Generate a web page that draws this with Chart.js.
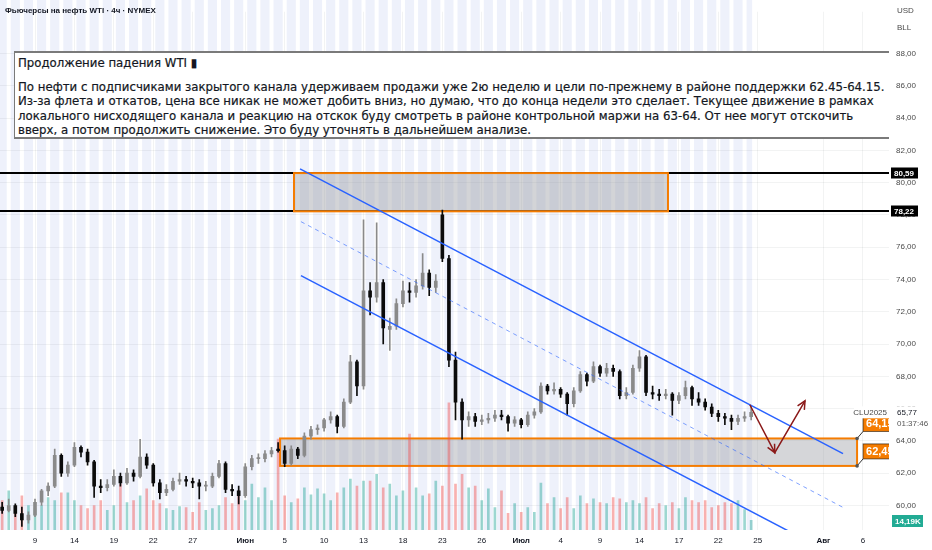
<!DOCTYPE html>
<html lang="ru">
<head>
<meta charset="utf-8">
<title>Фьючерсы на нефть WTI · 4ч</title>
<script src="https://cdn.jsdelivr.net/npm/chart.js@4.4.1/dist/chart.umd.min.js"></script>
<style>
  html, body { margin: 0; padding: 0; background: #fff; }
  #wrap { position: relative; width: 932px; height: 550px; overflow: hidden; }
  #priceChart { position: absolute; left: 0; top: 0; }
  .hdr { position: absolute; left: 5px; top: 6px; font: bold 8px "Liberation Sans", Arial, sans-serif; color: #131722; white-space: nowrap; }
  .cur { position: absolute; left: 897px; font: 8px "Liberation Sans", Arial, sans-serif; color: #4a4a4a; }
  #note { position: absolute; left: 14px; top: 51px; width: 875px; height: 88px; box-sizing: border-box;
          background: #fff; border-top: 2px solid #7a7a7a; border-bottom: 2px solid #7a7a7a; border-left: 1px solid #7a7a7a;
          padding-left: 3px; font: 11.75px "DejaVu Sans", sans-serif; color: #131722; white-space: nowrap; overflow: hidden;
          -webkit-text-stroke: 0.2px #131722; }
  #note .t { margin-top: 3px; line-height: 14px; }
  #note .b { margin-top: 10px; line-height: 14.3px; }
</style>
</head>
<body>
<div id="wrap">
  <canvas id="priceChart" width="932" height="550"></canvas>
  <div class="hdr">Фьючерсы на нефть WTI · 4ч · NYMEX</div>
  <div class="cur" style="top:6px">USD</div>
  <div class="cur" style="top:23px">BLL</div>
  <div id="note">
    <div class="t">Продолжение падения WTI ▮</div>
    <div class="b">По нефти с подписчиками закрытого канала удерживаем продажи уже 2ю неделю и цели по-прежнему в районе поддержки 62.45-64.15.<br>Из-за флета и откатов, цена все никак не может добить вниз, но думаю, что до конца недели это сделает. Текущее движение в рамках<br>локального нисходящего канала и реакцию на отскок буду смотреть в районе контрольной маржи на 63-64. От нее могут отскочить<br>вверх, а потом продолжить снижение. Это буду уточнять в дальнейшем анализе.</div>
  </div>
</div>
<script>
// Свечи: по 2 на торговый день, день 0 = 9 мая
const firstBarDay = -2.5;
const barsPerDay = 2;

const opens = [
    59.9, 59.7, 60.0, 59.5, 59.1,
    59.4, 60.2, 60.9, 61.2, 63.1, 62.0, 62.5, 63.6, 63.3, 62.7,
    61.2, 61.1, 61.3, 61.8, 61.4, 62.0, 61.8, 63.0, 62.5, 61.4,
    60.8, 61.0, 61.5, 61.6, 61.5, 61.4, 61.2, 61.2, 61.8, 62.6,
    61.0, 60.9, 60.6, 62.4, 62.9, 62.9, 63.2, 63.5, 63.4, 62.6,
    63.5, 63.1, 64.3, 64.7, 64.8, 65.3, 65.5, 64.9, 66.4, 68.9,
    67.4, 73.3, 72.9, 73.8, 70.9, 71.1, 72.5, 73.3, 73.2, 73.6,
    74.4, 73.5, 78.0, 75.3, 69.0, 66.4, 65.3, 65.5, 65.2, 65.3,
    65.4, 65.6, 65.5, 65.1, 65.3, 65.0, 65.6, 65.8, 67.4, 67.1,
    67.2, 66.9, 66.3, 67.1, 68.1, 67.7, 68.6, 68.2, 68.5, 68.3,
    66.8, 67.0, 68.5, 69.2, 67.0, 66.9, 66.8, 66.9, 66.5, 66.8,
    67.3, 66.6, 66.4, 66.1, 65.7, 65.5, 65.4, 65.2, 65.4, 65.5
];
const highs = [
    60.2, 60.4, 60.1, 59.9, 59.6,
    60.4, 61.0, 61.4, 63.5, 63.2, 62.7, 63.9, 63.7, 63.5, 62.8,
    61.6, 61.6, 62.2, 62.0, 62.3, 62.2, 64.1, 63.2, 62.6, 61.6,
    61.3, 61.7, 62.0, 61.8, 61.7, 61.6, 61.5, 62.0, 62.8, 62.7,
    61.3, 61.2, 62.6, 63.1, 63.2, 63.4, 63.6, 63.9, 63.7, 63.7,
    63.6, 64.5, 64.9, 65.0, 65.4, 65.8, 65.6, 66.6, 69.3, 69.0,
    77.7, 73.8, 77.5, 74.0, 71.6, 72.8, 73.9, 73.8, 74.0, 75.6,
    74.6, 74.3, 78.3, 75.5, 69.5, 66.6, 65.8, 65.7, 65.6, 65.7,
    65.9, 65.9, 65.6, 65.5, 65.4, 65.8, 66.0, 67.6, 67.5, 67.6,
    67.3, 67.0, 67.3, 68.3, 68.2, 68.9, 68.7, 68.8, 68.7, 68.4,
    67.3, 68.7, 69.6, 69.3, 67.4, 67.2, 67.2, 67.0, 67.0, 67.7,
    67.4, 67.0, 66.6, 66.3, 65.9, 65.7, 65.6, 65.6, 65.8, 66.2
];
const lows = [
    59.5, 59.6, 59.3, 58.7, 58.9,
    59.3, 60.0, 60.6, 61.1, 61.8, 61.8, 62.4, 63.0, 62.5, 60.5,
    60.8, 60.9, 61.2, 61.2, 61.3, 61.5, 61.7, 62.3, 61.2, 60.4,
    60.6, 60.9, 61.3, 61.2, 61.1, 60.4, 60.9, 61.1, 61.7, 60.8,
    60.6, 60.1, 60.5, 62.2, 62.6, 62.7, 63.0, 63.3, 62.4, 62.5,
    62.9, 63.0, 64.1, 64.4, 64.6, 65.1, 64.5, 64.8, 66.3, 66.8,
    67.2, 71.8, 72.6, 70.0, 69.6, 70.9, 72.3, 72.6, 72.9, 73.4,
    73.0, 73.2, 75.1, 68.6, 65.3, 64.1, 64.9, 64.9, 65.0, 65.1,
    65.2, 65.3, 64.6, 64.9, 64.8, 64.9, 65.4, 65.7, 66.9, 66.9,
    66.7, 65.6, 66.1, 67.0, 67.4, 67.6, 68.0, 68.0, 68.0, 66.6,
    66.6, 66.9, 68.3, 66.8, 66.6, 66.5, 66.6, 65.6, 66.3, 66.6,
    66.2, 66.2, 65.9, 65.5, 65.2, 65.0, 64.7, 65.0, 65.2, 65.3
];
const closes = [
    59.7, 60.0, 59.5, 59.1, 59.4,
    60.2, 60.9, 61.2, 63.1, 62.0, 62.5, 63.6, 63.3, 62.7, 61.2,
    61.1, 61.3, 61.8, 61.4, 62.0, 61.8, 63.0, 62.5, 61.4, 60.8,
    61.0, 61.5, 61.6, 61.5, 61.4, 61.2, 61.2, 61.8, 62.6, 61.0,
    60.9, 60.6, 62.4, 62.9, 62.9, 63.2, 63.4, 63.4, 62.6, 63.5,
    63.1, 64.3, 64.7, 64.8, 65.3, 65.5, 64.9, 66.4, 68.9, 67.4,
    73.3, 72.9, 73.8, 71.0, 71.1, 72.5, 73.3, 73.2, 73.6, 74.4,
    73.5, 73.9, 75.3, 69.0, 66.4, 65.3, 65.5, 65.2, 65.3, 65.4,
    65.6, 65.5, 65.1, 65.3, 65.0, 65.6, 65.8, 67.4, 67.1, 67.2,
    66.9, 66.3, 67.1, 68.1, 67.7, 68.6, 68.2, 68.5, 68.3, 66.8,
    67.0, 68.5, 69.2, 67.0, 66.9, 66.8, 66.9, 66.5, 66.8, 67.3,
    66.6, 66.4, 66.1, 65.7, 65.5, 65.4, 65.2, 65.4, 65.5, 65.77
];
// Объём, тыс. контрактов
const volumes = [
    42.6, 56.8, 28.4, 49.7, 35.5,
    31.2, 35.5, 46.9, 42.6, 54.0, 54.0, 42.6, 35.5, 31.2, 35.5,
    42.6, 28.4, 35.5, 66.7, 39.8, 42.6, 49.7, 59.6, 42.6, 38.3,
    31.2, 28.4, 34.1, 32.7, 25.6, 39.8, 28.4, 31.2, 35.5, 46.9,
    38.3, 56.8, 42.6, 66.7, 46.9, 61.1, 42.6, 132.1, 49.7, 39.8,
    45.4, 61.1, 51.1, 59.6, 52.5, 42.6, 54.0, 61.1, 73.8, 63.9,
    71.0, 71.0, 80.9, 61.1, 66.7, 49.7, 56.8, 139.2, 61.1, 49.7,
    52.5, 71.0, 63.9, 184.6, 66.7, 80.9, 61.1, 63.9, 42.6, 59.6,
    32.7, 56.8, 24.1, 38.3, 25.6, 32.7, 25.6, 68.2, 38.3, 46.9,
    31.2, 46.9, 31.2, 49.7, 38.3, 45.4, 39.8, 38.3, 46.9, 45.4,
    39.8, 42.6, 38.3, 46.9, 31.2, 38.3, 35.5, 39.8, 31.2, 46.9,
    42.6, 39.8, 42.6, 32.7, 35.5, 39.8, 38.3, 42.6, 29.8, 14.19
];

// Подписи осей
const xTickDays = [0, 3, 6, 9, 12, 16, 19, 22, 25, 28, 31, 34, 37, 40, 43, 46, 49, 52, 55, 60, 63];
const xTickLabels = ['9', '14', '19', '22', '27', 'Июн', '5', '10', '13', '18', '23', '26', 'Июл', '4', '9', '14', '17', '22', '25', 'Авг', '6'];
const monthLabels = ['Июн', 'Июл', 'Авг'];
const yTicks = [60, 62, 64, 66, 68, 70, 72, 74, 76, 78, 80, 82, 84, 86, 88];

// Разметка: уровни, зоны, канал, прогноз (день, цена)
const levelPrices = [80.59, 78.22];
const topZoneDays = [19.71, 48.17];
const topZonePrices = [78.22, 80.59];
const supportZoneDays = [18.65, 62.56];
const supportZonePrices = [62.45, 64.15];
const channelUpper = [[20.17, 80.85], [61.49, 63.21]];
const channelMiddle = [[20.24, 77.58], [61.49, 59.88]];
const channelLower = [[20.24, 74.24], [58.6, 57.88]];
const forecastPath = [[54.4, 66.24], [56.3, 63.27], [58.6, 66.48]];
const lastPrice = 65.77;
const lastVolume = '14,19K';

const barDays = closes.map((c, i) => firstBarDay + i / barsPerDay);
const isUp = closes.map((c, i) => c >= opens[i]);
const candleColors = isUp.map(u => u ? '#8a8a8a' : '#0b0b0b');
const volumeColors = isUp.map(u => u ? 'rgba(38, 166, 154, 0.45)' : 'rgba(239, 83, 80, 0.45)');

const fmt = v => v.toFixed(2).replace('.', ',');
const FONT = '"Liberation Sans", Arial, sans-serif';

function line(ctx, chart, pts) {
    const { x, y } = chart.scales;
    ctx.beginPath();
    pts.forEach((p, i) => {
        const px = x.getPixelForValue(p[0]), py = y.getPixelForValue(p[1]);
        if (i === 0) ctx.moveTo(px, py); else ctx.lineTo(px, py);
    });
    ctx.stroke();
}

function arrowHead(ctx, x0, y0, x1, y1) {
    const a = Math.atan2(y1 - y0, x1 - x0);
    ctx.beginPath();
    ctx.moveTo(x1 - 9 * Math.cos(a - 0.45), y1 - 9 * Math.sin(a - 0.45));
    ctx.lineTo(x1, y1);
    ctx.lineTo(x1 - 9 * Math.cos(a + 0.45), y1 - 9 * Math.sin(a + 0.45));
    ctx.stroke();
}

function zone(ctx, chart, days, prices, fill) {
    const { x, y } = chart.scales;
    const x0 = x.getPixelForValue(days[0]), x1 = x.getPixelForValue(days[1]);
    const y0 = y.getPixelForValue(prices[1]), y1 = y.getPixelForValue(prices[0]);
    ctx.fillStyle = fill;
    ctx.fillRect(x0, y0, x1 - x0, y1 - y0);
    ctx.strokeStyle = '#f57c00';
    ctx.lineWidth = 2;
    ctx.strokeRect(x0, y0, x1 - x0, y1 - y0);
}

function tag(ctx, x0, yc, w, h, bg, fg, text) {
    ctx.fillStyle = bg;
    ctx.fillRect(x0, yc - h / 2, w, h);
    ctx.fillStyle = fg;
    ctx.font = 'bold 8px ' + FONT;
    ctx.textBaseline = 'middle';
    ctx.textAlign = 'left';
    ctx.fillText(text, x0 + 3, yc + 0.5);
}

const drawings = {
    id: 'drawings',
    beforeDraw(chart) {
        const { ctx, chartArea, scales: { x } } = chart;
        ctx.save();
        ctx.fillStyle = '#fff';
        ctx.fillRect(0, 0, chart.width, chart.height);
        // фон торговых сессий
        const xEnd = x.getPixelForValue(barDays[barDays.length - 1]) + 1;
        ctx.fillStyle = '#eef1fb';
        ctx.fillRect(chartArea.left, 0, xEnd - chartArea.left, chartArea.bottom);
        ctx.fillStyle = '#fff';
        for (let d = Math.ceil(firstBarDay); d <= barDays[barDays.length - 1]; d++) {
            ctx.fillRect(x.getPixelForValue(d) - 2, 0, 4, chartArea.bottom);
        }
        ctx.restore();
    },
    beforeDatasetsDraw(chart) {
        const { ctx, chartArea, scales: { y } } = chart;
        ctx.save();
        ctx.strokeStyle = '#000';
        ctx.lineWidth = 2;
        levelPrices.forEach(p => {
            const py = Math.round(y.getPixelForValue(p));
            ctx.beginPath();
            ctx.moveTo(chartArea.left, py);
            ctx.lineTo(chartArea.right, py);
            ctx.stroke();
        });
        zone(ctx, chart, topZoneDays, topZonePrices, 'rgba(150, 152, 160, 0.42)');
        zone(ctx, chart, supportZoneDays, supportZonePrices, 'rgba(150, 152, 160, 0.4)');
        ctx.restore();
    },
    afterDatasetsDraw(chart) {
        const { ctx, chartArea, scales: { x, y } } = chart;
        ctx.save();
        ctx.beginPath();
        ctx.rect(chartArea.left, chartArea.top, chartArea.right - chartArea.left, chartArea.bottom - chartArea.top);
        ctx.clip();

        // нисходящий канал
        ctx.strokeStyle = '#2962ff';
        ctx.lineWidth = 1.5;
        line(ctx, chart, channelUpper);
        line(ctx, chart, channelLower);
        ctx.setLineDash([4, 4]);
        ctx.lineWidth = 1;
        ctx.strokeStyle = 'rgba(41, 98, 255, 0.6)';
        line(ctx, chart, channelMiddle);
        ctx.setLineDash([]);

        // прогноз
        ctx.strokeStyle = '#8b1a1a';
        ctx.lineWidth = 1.5;
        line(ctx, chart, forecastPath);
        const fp = forecastPath.map(p => [x.getPixelForValue(p[0]), y.getPixelForValue(p[1])]);
        arrowHead(ctx, fp[0][0], fp[0][1], fp[1][0], fp[1][1]);
        arrowHead(ctx, fp[1][0], fp[1][1], fp[2][0], fp[2][1]);

        // ценовые метки зоны поддержки
        const zx = x.getPixelForValue(supportZoneDays[1]);
        [supportZonePrices[1], supportZonePrices[0]].forEach(p => {
            const cy = y.getPixelForValue(p);
            ctx.strokeStyle = '#333';
            ctx.lineWidth = 1;
            ctx.beginPath();
            ctx.moveTo(zx, cy);
            ctx.lineTo(zx + 6, cy - 7);
            ctx.stroke();
            ctx.fillStyle = '#f57c00';
            ctx.fillRect(zx + 6, cy - 22, 40, 15);
            ctx.strokeStyle = 'rgba(0,0,0,0.55)';
            ctx.strokeRect(zx + 6, cy - 22, 40, 15);
            ctx.fillStyle = '#fff';
            ctx.font = 'bold 11px ' + FONT;
            ctx.textBaseline = 'middle';
            ctx.fillText(fmt(p), zx + 9, cy - 14);
            ctx.fillStyle = '#555';
            ctx.beginPath();
            ctx.arc(zx, cy, 1.8, 0, Math.PI * 2);
            ctx.fill();
        });

        // подпись инструмента
        const ly = y.getPixelForValue(lastPrice);
        ctx.fillStyle = '#fff';
        ctx.fillRect(chartArea.right - 35, ly - 6, 35, 12);
        ctx.fillStyle = '#4a4a4a';
        ctx.font = '8px ' + FONT;
        ctx.textAlign = 'right';
        ctx.textBaseline = 'middle';
        ctx.fillText('CLU2025', chartArea.right - 2, ly);
        ctx.restore();

        // метки на шкале цены
        ctx.save();
        const ax = chartArea.right + 2;
        levelPrices.forEach(p => tag(ctx, ax, Math.round(y.getPixelForValue(p)), 27, 11, '#000', '#fff', fmt(p)));
        ctx.fillStyle = '#fff';
        ctx.fillRect(ax, ly - 6, chart.width - ax, 24);
        ctx.font = '8px ' + FONT;
        ctx.textBaseline = 'middle';
        ctx.textAlign = 'left';
        ctx.fillStyle = '#131722';
        ctx.fillText(fmt(lastPrice), ax + 6, ly);
        ctx.fillStyle = '#555';
        ctx.fillText('01:37:46', ax + 6, ly + 11);
        tag(ctx, ax + 1, chartArea.bottom - 9, 31, 12, '#22ab94', '#fff', lastVolume);
        ctx.restore();
    }
};

const ctx = document.getElementById('priceChart').getContext('2d');
const chart = new Chart(ctx, {
    type: 'bar',
    data: {
        datasets: [{
            label: 'Объём',
            yAxisID: 'yv',
            data: volumes.map((v, i) => ({ x: barDays[i], y: v })),
            backgroundColor: volumeColors,
            barThickness: 2,
            grouped: false,
            order: 3
        }, {
            label: 'Тени',
            data: highs.map((h, i) => ({ x: barDays[i], y: [lows[i], h] })),
            backgroundColor: candleColors,
            barThickness: 1,
            grouped: false,
            order: 2
        }, {
            label: 'Свечи',
            data: opens.map((o, i) => ({ x: barDays[i], y: [o, closes[i]] })),
            backgroundColor: candleColors,
            barThickness: 3,
            minBarLength: 1,
            grouped: false,
            order: 1
        }]
    },
    options: {
        responsive: false,
        animation: false,
        events: [],
        layout: { padding: 0 },
        font: { family: FONT },
        plugins: {
            legend: { display: false },
            tooltip: { enabled: false }
        },
        scales: {
            x: {
                type: 'linear',
                min: -2.664,
                max: 64.99,
                offset: false,
                grid: { color: 'rgba(42, 46, 57, 0.06)', drawTicks: false, offset: false },
                border: { display: false },
                afterBuildTicks: axis => { axis.ticks = xTickDays.map(v => ({ value: v })); },
                afterFit: axis => { axis.height = 20; },
                ticks: {
                    autoSkip: false,
                    maxRotation: 0,
                    padding: 6,
                    color: '#131722',
                    font: c => ({ family: FONT, size: 8, weight: monthLabels.includes(xTickLabels[c.index]) ? 'bold' : 'normal' }),
                    callback: (v, i) => xTickLabels[i]
                }
            },
            y: {
                position: 'right',
                min: 58.48,
                max: 90.58,
                grid: { color: 'rgba(42, 46, 57, 0.06)', drawTicks: false },
                border: { display: false },
                afterBuildTicks: axis => { axis.ticks = yTicks.map(v => ({ value: v })); },
                afterFit: axis => { axis.width = 43; },
                ticks: {
                    padding: 7,
                    color: '#4a4a4a',
                    font: { family: FONT, size: 8 },
                    callback: v => fmt(v)
                }
            },
            yv: { display: false, min: 0, max: 752 }
        }
    },
    plugins: [drawings]
});
</script>
</body>
</html>
